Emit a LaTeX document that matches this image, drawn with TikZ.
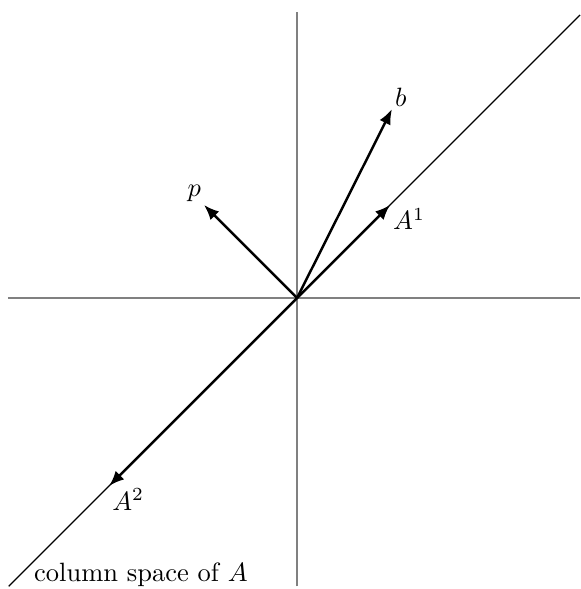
\documentclass[tikz,border=0pt]{standalone}
\usetikzlibrary{arrows.meta}
\begin{document}
\begin{tikzpicture}[x=1cm,y=1cm,
  axis/.style={gray, line width=0.5pt},
  span/.style={black, line width=0.4pt},
  vec/.style={-{Latex[length=4.6pt,width=3.7pt]}, line width=0.75pt},
  lbl/.style={inner sep=1pt, font=\normalsize, scale=0.81}]
\useasboundingbox (-3.194,-3.129) rectangle (3.043,3.204);
\coordinate (O) at (0,0);
\coordinate (xl) at (-3.108,0);
\coordinate (xr) at (3.043,0);
\coordinate (yb) at (0,-3.1);
\coordinate (yt) at (0,3.075);
\coordinate (dl) at (-3.1,-3.1);
\coordinate (dr) at (3.043,3.043);
\draw[axis] (xl) -- (xr);
\draw[axis] (yb) -- (yt);
\draw[span] (dl) -- (dr);
\coordinate (a1) at (1,1);
\coordinate (bb) at (1.02,2.03);
\coordinate (pp) at (-1,1);
\coordinate (a2) at (-2.02,-2.02);
\draw[vec] (O) -- (a1);
\draw[vec] (O) -- (bb);
\draw[vec] (O) -- (pp);
\draw[vec] (O) -- (a2);
\node[lbl, anchor=south west] (lb) at (bb) {$b$};
\node[lbl, anchor=south east] (lp) at (pp) {$p$};
\node[lbl, anchor=north west] (la1) at (a1) {$A^1$};
\node[lbl, anchor=north west] (la2) at (a2) {$A^2$};
\node[lbl, anchor=base west] (cs) at (-2.86,-3.05) {column space of $A$};
\end{tikzpicture}
\end{document}
